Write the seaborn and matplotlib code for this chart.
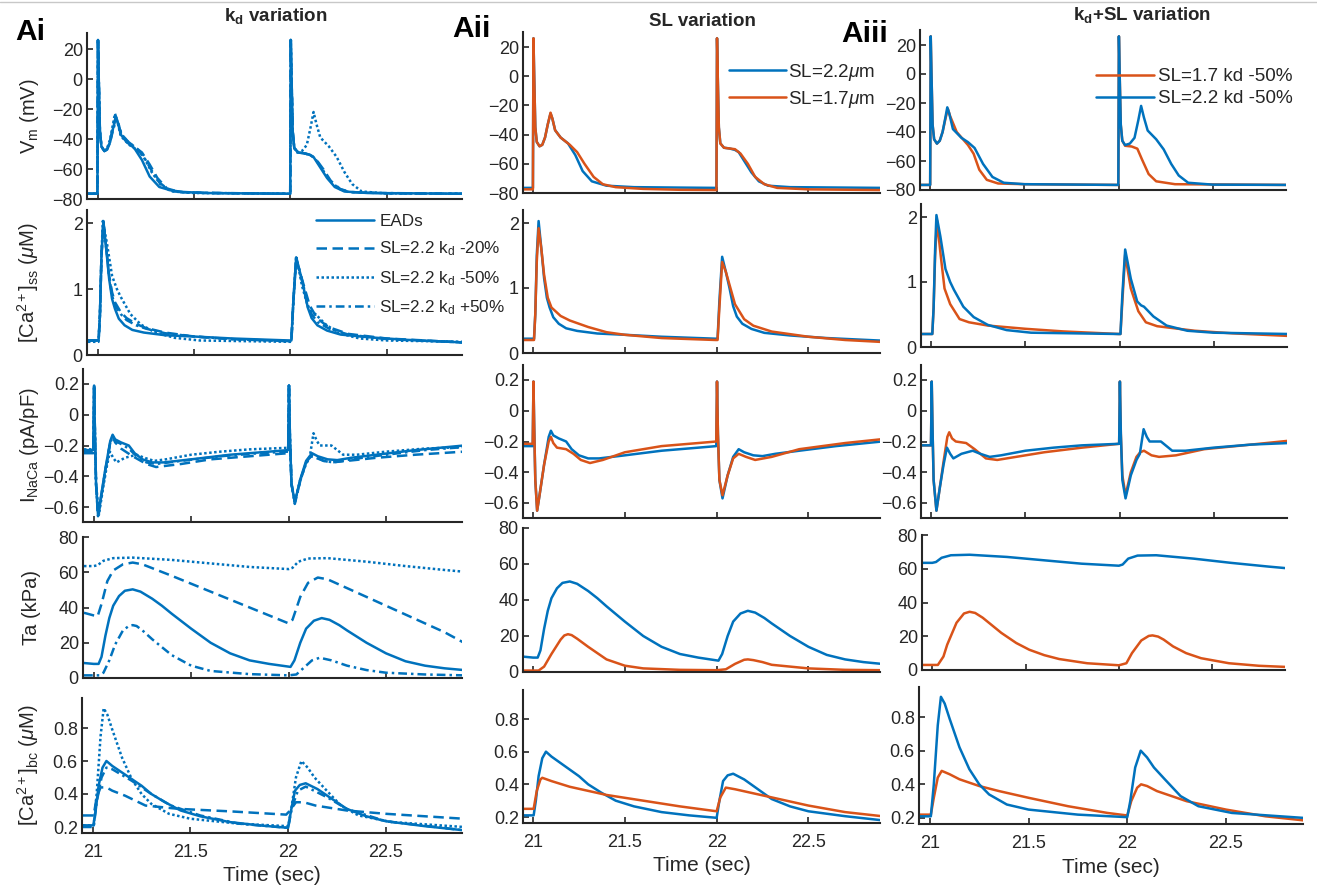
import matplotlib
matplotlib.use("Agg")
import matplotlib.pyplot as plt
from matplotlib.lines import Line2D
import seaborn as sns

# ------------------------------------------------------------------ data
# (time [s], value) pairs
VM_EAD = [(20.95,-76.5),(20.999,-76.5),(21.002,26),(21.006,0),(21.012,-35),(21.02,-45),(21.035,-48),(21.05,-47),(21.065,-42),(21.08,-33),(21.095,-25.5),(21.105,-29),(21.12,-37),(21.15,-42),(21.19,-46),(21.23,-54),(21.27,-65),(21.32,-72),(21.4,-75),(21.55,-76),(21.8,-76.3),(21.999,-76.5),(22.002,26),(22.006,0),(22.012,-35),(22.02,-46),(22.04,-49),(22.07,-49.5),(22.1,-50.5),(22.12,-52),(22.15,-58),(22.19,-66),(22.23,-72),(22.28,-75),(22.4,-76),(22.9,-76.5)]
VM_M20 = [(20.95,-76.5),(20.999,-76.5),(21.002,26),(21.006,0),(21.012,-35),(21.02,-45),(21.035,-48),(21.05,-46.5),(21.065,-41),(21.08,-32),(21.095,-25),(21.105,-28),(21.12,-36),(21.15,-41),(21.19,-45),(21.23,-49),(21.27,-57),(21.31,-66),(21.36,-73),(21.43,-75.5),(21.6,-76),(21.999,-76.5),(22.002,26),(22.006,0),(22.012,-35),(22.02,-46),(22.04,-49),(22.07,-49.5),(22.1,-50.5),(22.13,-53),(22.17,-60),(22.21,-68),(22.26,-73.5),(22.32,-75.5),(22.5,-76.2),(22.9,-76.5)]
VM_M50 = [(20.95,-76.5),(20.999,-76.5),(21.002,26),(21.006,0),(21.012,-35),(21.02,-45),(21.035,-48),(21.05,-46),(21.065,-40),(21.08,-30),(21.09,-23),(21.1,-27),(21.12,-38),(21.165,-44),(21.2,-47),(21.235,-51),(21.28,-62),(21.33,-71),(21.39,-75),(21.5,-76),(21.999,-76.5),(22.002,26),(22.006,0),(22.012,-35),(22.02,-46),(22.035,-49),(22.06,-48),(22.085,-44),(22.105,-32),(22.12,-22),(22.135,-30),(22.155,-39),(22.2,-45),(22.24,-52),(22.28,-62),(22.32,-70),(22.37,-75),(22.5,-76.3),(22.9,-76.5)]
VM_P50 = [(20.95,-76.5),(20.999,-76.5),(21.002,26),(21.006,0),(21.012,-35),(21.02,-45),(21.035,-48),(21.05,-47),(21.065,-42),(21.08,-34),(21.097,-27),(21.108,-30),(21.125,-37),(21.16,-42),(21.2,-46),(21.24,-52),(21.28,-61),(21.32,-69),(21.37,-74),(21.45,-75.5),(21.6,-76),(21.999,-76.5),(22.002,26),(22.006,0),(22.012,-35),(22.02,-46),(22.04,-49),(22.07,-49.5),(22.1,-50.5),(22.125,-52.5),(22.16,-59),(22.2,-67),(22.25,-73),(22.3,-75.3),(22.45,-76),(22.9,-76.5)]
VM_SL17 = [(20.95,-77.5),(20.999,-77.5),(21.002,26),(21.006,0),(21.012,-35),(21.02,-45),(21.035,-48),(21.05,-47),(21.065,-42),(21.08,-33),(21.095,-25),(21.105,-29),(21.12,-37),(21.15,-42),(21.2,-47),(21.24,-52),(21.28,-60),(21.33,-69),(21.38,-74),(21.45,-76),(21.6,-77.2),(21.8,-77.8),(21.999,-78),(22.002,26),(22.006,0),(22.012,-35),(22.02,-46),(22.04,-49),(22.07,-49.5),(22.1,-50),(22.13,-53),(22.17,-60),(22.21,-69),(22.26,-74),(22.33,-76.5),(22.5,-77.5),(22.9,-78)]
VM_SL17KD = [(20.95,-76.5),(20.999,-76.5),(21.002,26),(21.006,0),(21.012,-35),(21.02,-45),(21.035,-48),(21.05,-46),(21.065,-40),(21.08,-31),(21.093,-24),(21.105,-29),(21.14,-40),(21.18,-46),(21.2,-49),(21.23,-55),(21.26,-66),(21.3,-73),(21.36,-75.5),(21.5,-76),(21.999,-76.5),(22.002,26),(22.006,0),(22.012,-35),(22.02,-46),(22.035,-49.5),(22.07,-50),(22.1,-51.5),(22.125,-59),(22.16,-69),(22.2,-74),(22.3,-76),(22.9,-76.5)]

CASS_EAD = [(20.95,0.22),(21.005,0.22),(21.012,0.6),(21.02,1.5),(21.03,2.03),(21.045,1.6),(21.06,1.15),(21.075,0.85),(21.09,0.7),(21.11,0.55),(21.14,0.45),(21.18,0.38),(21.24,0.34),(21.35,0.3),(21.5,0.28),(21.7,0.25),(21.995,0.22),(22.005,0.22),(22.015,0.8),(22.03,1.48),(22.05,1.25),(22.07,1.0),(22.09,0.72),(22.11,0.56),(22.14,0.45),(22.19,0.37),(22.26,0.31),(22.4,0.27),(22.6,0.23),(22.9,0.19)]
CASS_M20 = [(20.95,0.22),(21.005,0.22),(21.012,0.6),(21.02,1.5),(21.03,2.0),(21.045,1.62),(21.06,1.2),(21.075,0.95),(21.09,0.8),(21.12,0.65),(21.15,0.56),(21.2,0.47),(21.25,0.41),(21.35,0.34),(21.5,0.28),(21.7,0.24),(21.995,0.21),(22.005,0.21),(22.015,0.8),(22.03,1.45),(22.05,1.25),(22.07,1.05),(22.1,0.75),(22.14,0.55),(22.2,0.42),(22.3,0.32),(22.5,0.25),(22.9,0.19)]
CASS_M50 = [(20.95,0.2),(21.005,0.2),(21.012,0.6),(21.02,1.5),(21.027,2.03),(21.048,1.7),(21.075,1.2),(21.1,1.0),(21.12,0.88),(21.17,0.62),(21.225,0.46),(21.3,0.34),(21.4,0.26),(21.53,0.22),(21.995,0.2),(22.005,0.2),(22.015,0.8),(22.03,1.5),(22.06,1.05),(22.094,0.7),(22.115,0.64),(22.13,0.62),(22.18,0.47),(22.25,0.33),(22.36,0.25),(22.5,0.22),(22.9,0.2)]
CASS_P50 = [(20.95,0.22),(21.005,0.22),(21.012,0.6),(21.02,1.5),(21.03,2.02),(21.045,1.6),(21.06,1.18),(21.075,0.9),(21.09,0.75),(21.12,0.62),(21.15,0.53),(21.2,0.45),(21.25,0.4),(21.35,0.33),(21.5,0.28),(21.7,0.24),(21.995,0.21),(22.005,0.21),(22.015,0.8),(22.03,1.47),(22.05,1.25),(22.07,1.02),(22.09,0.76),(22.11,0.62),(22.14,0.5),(22.2,0.4),(22.3,0.31),(22.5,0.24),(22.9,0.19)]
CASS_SL17 = [(20.95,0.2),(21.005,0.2),(21.012,0.6),(21.02,1.4),(21.03,1.92),(21.045,1.6),(21.06,1.2),(21.08,0.85),(21.1,0.7),(21.15,0.57),(21.2,0.5),(21.3,0.4),(21.4,0.32),(21.5,0.28),(21.7,0.23),(21.995,0.2),(22.005,0.2),(22.015,0.7),(22.03,1.4),(22.05,1.25),(22.07,1.05),(22.1,0.75),(22.15,0.52),(22.2,0.42),(22.3,0.33),(22.5,0.25),(22.7,0.2),(22.9,0.17)]
CASS_SL17KD = [(20.95,0.2),(21.005,0.2),(21.012,0.6),(21.02,1.4),(21.03,1.95),(21.05,1.4),(21.07,0.9),(21.1,0.66),(21.15,0.43),(21.2,0.38),(21.3,0.33),(21.5,0.28),(21.7,0.24),(21.995,0.2),(22.005,0.2),(22.015,0.7),(22.03,1.42),(22.06,0.9),(22.1,0.55),(22.14,0.38),(22.2,0.32),(22.4,0.25),(22.6,0.21),(22.9,0.17)]

NACA_EAD = [(20.95,-0.23),(20.998,-0.23),(21.002,0.19),(21.006,-0.1),(21.012,-0.45),(21.022,-0.65),(21.035,-0.55),(21.06,-0.35),(21.085,-0.17),(21.097,-0.13),(21.11,-0.16),(21.14,-0.18),(21.18,-0.2),(21.21,-0.25),(21.25,-0.29),(21.3,-0.31),(21.36,-0.31),(21.5,-0.29),(21.7,-0.26),(21.9,-0.24),(21.998,-0.23),(22.002,0.19),(22.007,-0.15),(22.015,-0.45),(22.032,-0.57),(22.06,-0.42),(22.09,-0.3),(22.12,-0.25),(22.15,-0.27),(22.2,-0.29),(22.25,-0.295),(22.32,-0.28),(22.45,-0.26),(22.65,-0.23),(22.9,-0.2)]
NACA_M20 = [(20.95,-0.25),(20.998,-0.25),(21.002,0.19),(21.006,-0.1),(21.012,-0.45),(21.022,-0.66),(21.035,-0.56),(21.06,-0.36),(21.085,-0.18),(21.097,-0.14),(21.11,-0.18),(21.14,-0.22),(21.2,-0.27),(21.27,-0.32),(21.32,-0.34),(21.45,-0.32),(21.6,-0.29),(21.8,-0.27),(21.998,-0.25),(22.002,0.19),(22.007,-0.15),(22.015,-0.45),(22.032,-0.57),(22.06,-0.43),(22.09,-0.31),(22.12,-0.26),(22.18,-0.3),(22.22,-0.31),(22.3,-0.3),(22.45,-0.28),(22.65,-0.26),(22.9,-0.24)]
NACA_M50 = [(20.95,-0.225),(20.998,-0.225),(21.002,0.19),(21.006,-0.1),(21.012,-0.45),(21.027,-0.65),(21.045,-0.5),(21.065,-0.35),(21.083,-0.24),(21.1,-0.28),(21.117,-0.31),(21.16,-0.28),(21.22,-0.26),(21.26,-0.28),(21.31,-0.3),(21.37,-0.29),(21.5,-0.26),(21.65,-0.24),(21.8,-0.225),(21.998,-0.215),(22.002,0.19),(22.007,-0.15),(22.015,-0.45),(22.032,-0.57),(22.06,-0.42),(22.09,-0.32),(22.108,-0.28),(22.128,-0.12),(22.145,-0.17),(22.16,-0.2),(22.22,-0.2),(22.28,-0.26),(22.35,-0.26),(22.5,-0.24),(22.7,-0.22),(22.9,-0.21)]
NACA_P50 = [(20.95,-0.24),(20.998,-0.24),(21.002,0.19),(21.006,-0.1),(21.012,-0.45),(21.022,-0.66),(21.035,-0.56),(21.06,-0.36),(21.085,-0.18),(21.097,-0.15),(21.11,-0.17),(21.14,-0.19),(21.18,-0.22),(21.22,-0.27),(21.27,-0.31),(21.32,-0.32),(21.45,-0.3),(21.65,-0.27),(21.85,-0.25),(21.998,-0.24),(22.002,0.19),(22.007,-0.15),(22.015,-0.45),(22.032,-0.58),(22.06,-0.43),(22.09,-0.31),(22.12,-0.27),(22.18,-0.3),(22.23,-0.31),(22.32,-0.29),(22.5,-0.26),(22.7,-0.23),(22.9,-0.21)]
NACA_SL17 = [(20.95,-0.215),(20.998,-0.215),(21.002,0.19),(21.006,-0.1),(21.012,-0.45),(21.022,-0.65),(21.035,-0.55),(21.06,-0.35),(21.085,-0.2),(21.097,-0.17),(21.11,-0.21),(21.13,-0.24),(21.18,-0.25),(21.22,-0.28),(21.26,-0.32),(21.31,-0.34),(21.38,-0.32),(21.5,-0.27),(21.7,-0.23),(21.9,-0.21),(21.998,-0.2),(22.002,0.19),(22.007,-0.15),(22.015,-0.45),(22.032,-0.55),(22.06,-0.42),(22.09,-0.31),(22.12,-0.28),(22.16,-0.3),(22.21,-0.32),(22.3,-0.3),(22.45,-0.25),(22.7,-0.21),(22.9,-0.185)]
NACA_SL17KD = [(20.95,-0.225),(20.998,-0.225),(21.002,0.19),(21.006,-0.1),(21.012,-0.45),(21.027,-0.65),(21.045,-0.5),(21.065,-0.33),(21.085,-0.17),(21.095,-0.14),(21.11,-0.18),(21.13,-0.2),(21.185,-0.21),(21.23,-0.25),(21.29,-0.31),(21.35,-0.32),(21.45,-0.3),(21.6,-0.27),(21.8,-0.24),(21.998,-0.215),(22.002,0.19),(22.007,-0.15),(22.015,-0.42),(22.032,-0.55),(22.06,-0.4),(22.09,-0.3),(22.11,-0.27),(22.13,-0.26),(22.17,-0.29),(22.21,-0.3),(22.3,-0.29),(22.45,-0.25),(22.7,-0.22),(22.9,-0.195)]

TA_EAD = [(20.95,8.5),(21.0,8),(21.025,8),(21.04,12),(21.06,24),(21.08,34),(21.1,41),(21.13,46.5),(21.16,49.5),(21.2,50.3),(21.24,49),(21.3,45),(21.35,41),(21.4,36.5),(21.5,28),(21.6,20),(21.7,14),(21.8,10),(21.9,8),(22.01,6.3),(22.03,10),(22.06,20),(22.09,28),(22.13,32.5),(22.17,34),(22.21,33),(22.26,30),(22.3,27),(22.4,20),(22.5,14),(22.6,9.5),(22.7,7),(22.8,5.5),(22.9,4.5)]
TA_M20 = [(20.95,37),(21.0,35.5),(21.02,35),(21.04,42),(21.07,55),(21.1,61),(21.15,64.5),(21.2,65.5),(21.25,64.5),(21.4,58),(21.6,49),(21.8,40),(22.0,31),(22.02,33),(22.06,46),(22.1,54),(22.15,57),(22.2,56),(22.4,46),(22.6,36),(22.8,26),(22.9,20)]
TA_M50 = [(20.95,63.5),(21.0,63.5),(21.02,64),(21.05,66.5),(21.1,68),(21.2,68.3),(21.4,67),(21.6,65),(21.8,63),(22.0,61.8),(22.02,62.5),(22.05,66),(22.1,67.8),(22.2,68),(22.4,66),(22.6,63.5),(22.8,61.3),(22.9,60.3)]
TA_P50 = [(20.95,1.5),(21.03,1.5),(21.05,3),(21.08,10),(21.11,19),(21.15,27),(21.18,29.5),(21.2,30),(21.22,29.5),(21.25,27),(21.3,22),(21.4,13),(21.5,7),(21.6,4),(21.8,2.2),(22.0,1.5),(22.04,2),(22.08,6),(22.12,10),(22.16,11.5),(22.22,10),(22.3,7),(22.4,4.5),(22.5,3),(22.7,2),(22.9,1.5)]
TA_SL17 = [(20.95,0.8),(21.03,0.8),(21.06,3),(21.1,10),(21.15,18),(21.17,20.3),(21.19,21),(21.21,20.5),(21.24,18.5),(21.3,14),(21.4,7),(21.5,3.5),(21.6,2),(21.8,1.2),(22.0,1),(22.05,1.5),(22.1,4.5),(22.15,6.8),(22.17,7),(22.2,6.6),(22.25,5.5),(22.3,4),(22.5,2),(22.7,1.2),(22.9,1)]
TA_SL17KD = [(20.95,3),(21.03,3),(21.06,8),(21.08,15),(21.13,28),(21.17,33.5),(21.2,34.5),(21.23,33.8),(21.27,31),(21.37,22),(21.45,16),(21.52,12),(21.6,8.8),(21.68,6.5),(21.83,4),(22.0,2.8),(22.04,4),(22.07,10),(22.12,17.5),(22.16,20.2),(22.18,20.5),(22.21,19.8),(22.24,18),(22.29,14),(22.36,10),(22.44,7),(22.59,4),(22.75,2.5),(22.9,1.8)]

BC_EAD = [(20.95,0.21),(21.003,0.21),(21.015,0.3),(21.03,0.45),(21.05,0.56),(21.07,0.6),(21.1,0.57),(21.15,0.53),(21.2,0.49),(21.25,0.45),(21.3,0.4),(21.37,0.35),(21.45,0.3),(21.55,0.265),(21.7,0.23),(21.85,0.21),(22.0,0.195),(22.015,0.3),(22.035,0.42),(22.06,0.455),(22.09,0.465),(22.15,0.43),(22.2,0.39),(22.3,0.31),(22.4,0.265),(22.5,0.235),(22.7,0.205),(22.9,0.18)]
BC_M20 = [(20.95,0.27),(21.005,0.27),(21.02,0.38),(21.04,0.44),(21.07,0.44),(21.1,0.42),(21.165,0.39),(21.27,0.33),(21.44,0.31),(21.7,0.295),(21.99,0.275),(22.01,0.3),(22.04,0.35),(22.08,0.35),(22.14,0.33),(22.3,0.3),(22.5,0.28),(22.7,0.265),(22.9,0.25)]
BC_M50 = [(20.95,0.21),(21.005,0.21),(21.02,0.4),(21.04,0.75),(21.056,0.92),(21.075,0.88),(21.1,0.79),(21.15,0.62),(21.2,0.49),(21.25,0.4),(21.3,0.34),(21.39,0.28),(21.5,0.25),(21.75,0.22),(22.0,0.205),(22.015,0.3),(22.04,0.5),(22.068,0.6),(22.1,0.56),(22.135,0.5),(22.19,0.43),(22.27,0.33),(22.36,0.27),(22.53,0.23),(22.9,0.2)]
BC_P50 = [(20.95,0.2),(21.005,0.2),(21.02,0.35),(21.045,0.5),(21.07,0.56),(21.1,0.55),(21.2,0.48),(21.3,0.4),(21.4,0.33),(21.55,0.27),(21.75,0.22),(22.0,0.195),(22.02,0.32),(22.05,0.42),(22.09,0.445),(22.2,0.38),(22.3,0.31),(22.5,0.235),(22.9,0.18)]
BC_SL17 = [(20.95,0.25),(21.003,0.25),(21.02,0.36),(21.04,0.43),(21.05,0.44),(21.1,0.42),(21.2,0.385),(21.3,0.36),(21.4,0.335),(21.6,0.3),(21.8,0.265),(22.0,0.235),(22.02,0.32),(22.05,0.38),(22.1,0.37),(22.2,0.345),(22.3,0.32),(22.5,0.27),(22.7,0.23),(22.9,0.205)]
BC_SL17KD = [(20.95,0.22),(21.005,0.22),(21.02,0.32),(21.04,0.44),(21.06,0.48),(21.1,0.46),(21.15,0.43),(21.25,0.39),(21.35,0.36),(21.5,0.32),(21.7,0.27),(21.9,0.23),(22.0,0.215),(22.02,0.3),(22.05,0.38),(22.07,0.4),(22.1,0.39),(22.15,0.36),(22.3,0.3),(22.5,0.25),(22.7,0.21),(22.9,0.185)]

YLABELS = [r"V$_{\mathrm{m}}$ (mV)", r"[Ca$^{\mathrm{2+}}$]$_{\mathrm{ss}}$ ($\mu$M)",
           r"I$_{\mathrm{NaCa}}$ (pA/pF)", "Ta (kPa)", r"[Ca$^{\mathrm{2+}}$]$_{\mathrm{bc}}$ ($\mu$M)"]
YTICKS = [[-80, -60, -40, -20, 0, 20], [0, 1, 2], [-0.6, -0.4, -0.2, 0, 0.2], [0, 20, 40, 60, 80], [0.2, 0.4, 0.6, 0.8]]
XTICKS = [21, 21.5, 22, 22.5]
COL_TITLES = [r"k$_{\mathbf{d}}$ variation", "SL variation", r"k$_{\mathbf{d}}$+SL variation"]
PANEL_LABELS = ["Ai", "Aii", "Aiii"]
LEG1 = ["EADs", r"SL=2.2 k$_{\mathrm{d}}$ -20%", r"SL=2.2 k$_{\mathrm{d}}$ -50%", r"SL=2.2 k$_{\mathrm{d}}$ +50%"]
LEG2 = [r"SL=2.2$\mu$m", r"SL=1.7$\mu$m"]
LEG3 = ["SL=1.7 kd -50%", "SL=2.2 kd -50%"]

# ------------------------------------------------------------------ style
BLUE, ORANGE = "#0072BD", "#D95319"
INK = "#262626"
LW = 1.8
SOLID, DASH, DOT, DASHDOT = "-", (0, (4.2, 2.2)), (0, (1, 1)), (0, (3.5, 1.6, 1, 1.6))

sns.set_theme(style="ticks")
plt.rcParams["font.family"] = ["Liberation Sans", "DejaVu Sans"]
plt.rcParams.update({
    "mathtext.fontset": "custom", "mathtext.rm": "Liberation Sans",
    "mathtext.it": "Liberation Sans:italic", "mathtext.bf": "Liberation Sans:bold",
    "axes.unicode_minus": True, "text.color": INK, "axes.labelcolor": INK,
    "xtick.color": INK, "ytick.color": INK, "axes.edgecolor": INK,
})

W, H = 1317, 892
fig = plt.figure(figsize=(W / 100, H / 100), dpi=100)
fig.patch.set_facecolor("white")

XLIM = (20.945, 22.89)
YLIMS = [(-80, 30.5), (0, 2.2), (-0.7, 0.3), (0, 80), (0.165, 0.98)]
COL_X = [[(87, 462), (87, 462), (83, 462), (83, 462), (82, 462)],
         [(523, 880)] * 5,
         [(920, 1286), (921, 1287), (921, 1287), (922, 1285), (919, 1303)]]
ROW_REF = [
    [((20, 49), (-80, 199)), ((2, 223), (0, 355)), ((0.2, 384), (-0.6, 507)), ((80, 537), (0, 678)), ((0.8, 728), (0.2, 827))],
    [((20, 47), (-80, 193)), ((2, 223), (0, 353)), ((0.2, 380), (-0.6, 503)), ((80, 528), (0, 672)), ((0.8, 719), (0.2, 817))],
    [((20, 45), (-80, 190)), ((2, 217), (0, 347)), ((0.2, 380), (-0.6, 503)), ((80, 535), (0, 670)), ((0.8, 717), (0.2, 818))],
]

SERIES = [
    [[(VM_EAD, BLUE, SOLID), (VM_M20, BLUE, DASH), (VM_M50, BLUE, DOT), (VM_P50, BLUE, DASHDOT)],
     [(CASS_EAD, BLUE, SOLID), (CASS_M20, BLUE, DASH), (CASS_M50, BLUE, DOT), (CASS_P50, BLUE, DASHDOT)],
     [(NACA_EAD, BLUE, SOLID), (NACA_M20, BLUE, DASH), (NACA_M50, BLUE, DOT), (NACA_P50, BLUE, DASHDOT)],
     [(TA_EAD, BLUE, SOLID), (TA_M20, BLUE, DASH), (TA_M50, BLUE, DOT), (TA_P50, BLUE, DASHDOT)],
     [(BC_EAD, BLUE, SOLID), (BC_M20, BLUE, DASH), (BC_M50, BLUE, DOT), (BC_P50, BLUE, DASHDOT)]],
    [[(VM_EAD, BLUE, SOLID), (VM_SL17, ORANGE, SOLID)],
     [(CASS_EAD, BLUE, SOLID), (CASS_SL17, ORANGE, SOLID)],
     [(NACA_EAD, BLUE, SOLID), (NACA_SL17, ORANGE, SOLID)],
     [(TA_EAD, BLUE, SOLID), (TA_SL17, ORANGE, SOLID)],
     [(BC_EAD, BLUE, SOLID), (BC_SL17, ORANGE, SOLID)]],
    [[(VM_SL17KD, ORANGE, SOLID), (VM_M50, BLUE, SOLID)],
     [(CASS_SL17KD, ORANGE, SOLID), (CASS_M50, BLUE, SOLID)],
     [(NACA_SL17KD, ORANGE, SOLID), (NACA_M50, BLUE, SOLID)],
     [(TA_SL17KD, ORANGE, SOLID), (TA_M50, BLUE, SOLID)],
     [(BC_SL17KD, ORANGE, SOLID), (BC_M50, BLUE, SOLID)]],
]


def px_rect(x0, x1, ref, ylim):
    (v1, p1), (v2, p2) = ref
    s = (p2 - p1) / (v2 - v1)
    top = p1 + (ylim[1] - v1) * s
    bot = p1 + (ylim[0] - v1) * s
    return [x0 / W, 1 - bot / H, (x1 - x0) / W, (bot - top) / H]


axes = [[None] * 5 for _ in range(3)]
for c in range(3):
    for r in range(5):
        x0, x1 = COL_X[c][r]
        ax = fig.add_axes(px_rect(x0, x1, ROW_REF[c][r], YLIMS[r]))
        axes[c][r] = ax
        for data, col, ls in SERIES[c][r]:
            t = [p[0] for p in data]
            v = [p[1] for p in data]
            sns.lineplot(x=t, y=v, ax=ax, color=col, linestyle=ls, linewidth=LW,
                         estimator=None, sort=False, legend=False)
        ax.set_xlim(*XLIM)
        ax.set_ylim(*YLIMS[r])
        ax.set_xticks(XTICKS)
        ax.set_yticks(YTICKS[r], labels=[f"{v:g}".replace("-", "\u2212") for v in YTICKS[r]])
        ax.set_facecolor("none")
        for sp in ("top", "right"):
            ax.spines[sp].set_visible(False)
        for sp in ("left", "bottom"):
            ax.spines[sp].set_linewidth(1.5)
            ax.spines[sp].set_color(INK)
        ax.tick_params(axis="both", direction="in", length=4, width=1.2, labelsize=13, pad=3, color=INK)
        ax.tick_params(axis="x", pad=8)
        ax.set_xlabel("")
        ax.set_ylabel("")
        if r < 4:
            ax.set_xticklabels([])
        else:
            ax.set_xticklabels([f"{v:g}" for v in XTICKS])
            ax.set_xlabel("Time (sec)", fontsize=15, labelpad=4)
        if c == 0:
            ax.set_ylabel(YLABELS[r], fontsize=14.5)
            ax.yaxis.set_label_coords((41 - x0) / (x1 - x0), 0.5)

# titles & panel labels
fig.text(276 / W, 1 - 21 / H, COL_TITLES[0], ha="center", va="baseline", fontsize=13.5, fontweight="bold")
fig.text(702 / W, 1 - 26 / H, COL_TITLES[1], ha="center", va="baseline", fontsize=13.5, fontweight="bold")
fig.text(1142 / W, 1 - 20 / H, COL_TITLES[2], ha="center", va="baseline", fontsize=13.5, fontweight="bold")
fig.text(15 / W, 1 - 40 / H, PANEL_LABELS[0], ha="left", va="baseline", fontsize=21.5, fontweight="bold", color="black")
fig.text(452 / W, 1 - 37 / H, PANEL_LABELS[1], ha="left", va="baseline", fontsize=21.5, fontweight="bold", color="black")
fig.text(841 / W, 1 - 42 / H, PANEL_LABELS[2], ha="left", va="baseline", fontsize=21.5, fontweight="bold", color="black")

# legends
h1 = [Line2D([], [], color=BLUE, lw=LW, linestyle=s) for s in (SOLID, DASH, DOT, DASHDOT)]
axes[0][1].legend(h1, LEG1, loc="upper left", bbox_to_anchor=(316 / W, 1 - 214 / H),
                  bbox_transform=fig.transFigure, frameon=False, fontsize=12.3,
                  handlelength=3.4, handletextpad=0.3, labelspacing=0.62, borderpad=0, borderaxespad=0)
h2 = [Line2D([], [], color=BLUE, lw=LW), Line2D([], [], color=ORANGE, lw=LW)]
axes[1][0].legend(h2, LEG2, loc="upper left", bbox_to_anchor=(729 / W, 1 - 62 / H),
                  bbox_transform=fig.transFigure, frameon=False, fontsize=13.6,
                  handlelength=3.0, handletextpad=0.15, labelspacing=0.3, borderpad=0, borderaxespad=0)
h3 = [Line2D([], [], color=ORANGE, lw=LW), Line2D([], [], color=BLUE, lw=LW)]
axes[2][0].legend(h3, LEG3, loc="upper left", bbox_to_anchor=(1096 / W, 1 - 68 / H),
                  bbox_transform=fig.transFigure, frameon=False, fontsize=13.6,
                  handlelength=3.05, handletextpad=0.25, labelspacing=0.25, borderpad=0, borderaxespad=0)

fig.add_artist(Line2D([0, 1], [1 - 1.5 / H, 1 - 1.5 / H], transform=fig.transFigure, color="#c8c8c8", lw=1))

fig.savefig("out.png", dpi=100, facecolor="white")
